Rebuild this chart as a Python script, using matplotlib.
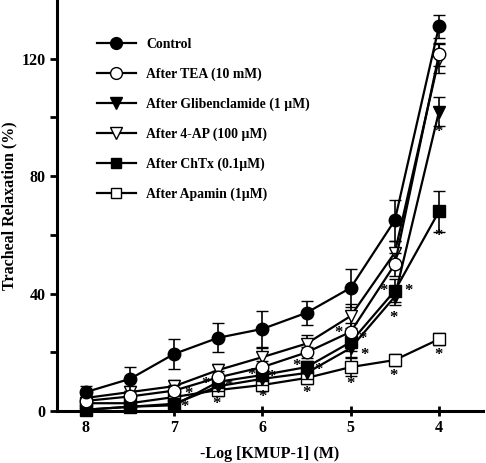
import matplotlib
matplotlib.use("Agg")
import matplotlib.pyplot as plt
from matplotlib.lines import Line2D

plt.rcParams['font.family'] = ['Liberation Serif', 'DejaVu Serif']
plt.rcParams['font.weight'] = 'bold'

# Data
log_conc = [8, 7.5, 7, 6.5, 6, 5.5, 5, 4.5, 4]
control = [6.5, 11, 19.5, 25, 28, 33.5, 42, 65, 131]
control_err = [2, 4, 5, 5, 6, 4, 6.5, 7, 4]
tea = [3.5, 5, 7, 11.5, 15, 20, 27, 50, 121.5]
tea_err = [2, 2, 2, 2, 2, 2, 3, 4, 4]
glib = [0.5, 1.5, 2.5, 8.5, 11, 13, 21.5, 39, 102]
glib_err = [1, 1, 1, 1.5, 2, 2, 3, 3, 5]
ap4 = [4.5, 6.5, 8.5, 14, 18.4, 23, 32.4, 54, 120]
ap4_err = [2, 2, 2, 2, 3, 3, 4, 4, 5]
chtx = [0.5, 1.5, 2, 10, 12.3, 15, 23.5, 41, 68]
chtx_err = [1, 1, 1, 1.5, 2, 2, 3, 4, 7]
apamin = [2.7, 2.7, 4.8, 7.2, 8.9, 11.3, 15, 17.4, 24.5]
apamin_err = [1, 1, 1, 2, 2, 2, 3, 2, 2]

labels = ["Control", "After TEA (10 mM)", "After Glibenclamide (1 µM)",
          "After 4-AP (100 µM)", "After ChTx (0.1µM)", "After Apamin (1µM)"]

# significance asterisk positions (data coords)
star_x = [6.88, 6.84, 6.52, 6.64, 6.38, 6.0, 6.13, 5.90, 5.50, 5.62, 5.37,
          5.0, 5.14, 4.87, 4.84, 4.51, 4.63, 4.35, 4.51, 4.0, 4.0, 4.0]
star_y = [1.4, 6.0, 2.4, 9.2, 8.5, 4.8, 12.3, 11.6, 6.1, 15.4, 14.0,
          9.2, 26.6, 24.6, 19.2, 11.9, 41, 41, 31.7, 19.1, 59.7, 94.9]

xticks = [8, 7, 6, 5, 4]
yticks = [0, 40, 80, 120]

fig = plt.figure(figsize=(4.86, 4.63), dpi=100)
ax = fig.add_axes([0.117, 0.112, 0.877, 0.888])

series = [
    (control, control_err, 'o', 'black'),
    (tea, tea_err, 'o', 'white'),
    (glib, glib_err, 'v', 'black'),
    (ap4, ap4_err, 'v', 'white'),
    (chtx, chtx_err, 's', 'black'),
    (apamin, apamin_err, 's', 'white'),
]
sizes = {'o': 9, 'v': 9, 's': 8}
handles = []
for i, ((vals, errs, m, fc), lab) in enumerate(zip(series, labels)):
    ax.errorbar(log_conc, vals, yerr=errs, fmt='-', marker=m, color='black',
                mfc=fc, mec='black', ms=sizes[m], mew=1.0, lw=1.6,
                elinewidth=1.2, capsize=4.5, capthick=1.2,
                zorder=3 + (5 - i) * 0.1, clip_on=False)
    handles.append(Line2D([], [], color='black', lw=1.6, marker=m, mfc=fc,
                          mec='black', ms=sizes[m] - 0.5, mew=1.0, label=lab))

for sx, sy in zip(star_x, star_y):
    ax.text(sx, sy, "*", ha='center', va='center', fontsize=12,
            fontweight='bold', zorder=10)

ax.set_xlim(8.33, 3.5)
ax.set_ylim(0, 140)
ax.set_xticks(xticks)
ax.set_yticks(yticks)
ax.set_yticks([20, 60, 100], minor=True)
ax.spines['top'].set_visible(False)
ax.spines['right'].set_visible(False)
for s in ['left', 'bottom']:
    ax.spines[s].set_linewidth(2.2)
ax.tick_params(axis='both', which='both', direction='out', length=5, width=2,
               labelsize=11.5)
ax.tick_params(axis='x', direction='inout', length=7, pad=3)
ax.tick_params(axis='y', pad=3)
for t in ax.get_xticklabels() + ax.get_yticklabels():
    t.set_fontweight('bold')

ax.set_xlabel("-Log [KMUP-1] (M)", fontsize=11.5, fontweight='bold', labelpad=7)
ax.set_ylabel("Tracheal Relaxation (%)", fontsize=11.5, fontweight='bold', labelpad=3)

leg = ax.legend(handles=handles, loc='upper left', bbox_to_anchor=(0.093, 0.907),
                frameon=False, fontsize=9.9, handlelength=2.9, handletextpad=0.7,
                labelspacing=1.2, borderpad=0, borderaxespad=0)
for t in leg.get_texts():
    t.set_fontweight('bold')

fig.savefig("out.png", dpi=100)
